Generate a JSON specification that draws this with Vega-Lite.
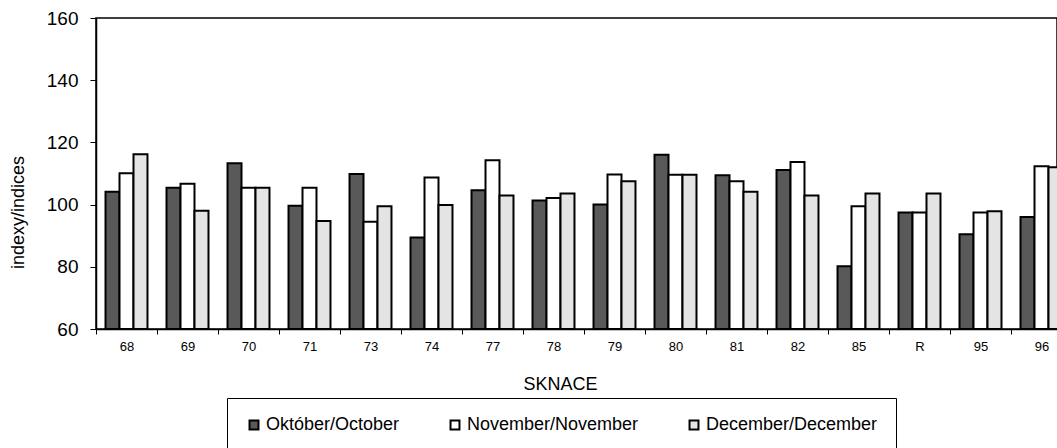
{
  "$schema": "https://vega.github.io/schema/vega-lite/v6.json",
  "autosize": "none",
  "padding": {"left": 96, "top": 18, "right": 0, "bottom": 119},
  "width": 961,
  "height": 311,
  "background": "white",
  "config": {
    "font": "Liberation Sans",
    "view": {"stroke": "black", "strokeWidth": 1.5}
  },
  "data": {
    "values": [
      {"sknace": "68", "month": "Október/October", "value": 104.1},
      {"sknace": "68", "month": "November/November", "value": 110.1},
      {"sknace": "68", "month": "December/December", "value": 116.2},
      {"sknace": "69", "month": "Október/October", "value": 105.4},
      {"sknace": "69", "month": "November/November", "value": 106.7},
      {"sknace": "69", "month": "December/December", "value": 98.0},
      {"sknace": "70", "month": "Október/October", "value": 113.3},
      {"sknace": "70", "month": "November/November", "value": 105.4},
      {"sknace": "70", "month": "December/December", "value": 105.4},
      {"sknace": "71", "month": "Október/October", "value": 99.6},
      {"sknace": "71", "month": "November/November", "value": 105.4},
      {"sknace": "71", "month": "December/December", "value": 94.7},
      {"sknace": "73", "month": "Október/October", "value": 109.8},
      {"sknace": "73", "month": "November/November", "value": 94.5},
      {"sknace": "73", "month": "December/December", "value": 99.5},
      {"sknace": "74", "month": "Október/October", "value": 89.4},
      {"sknace": "74", "month": "November/November", "value": 108.7},
      {"sknace": "74", "month": "December/December", "value": 99.9},
      {"sknace": "77", "month": "Október/October", "value": 104.6},
      {"sknace": "77", "month": "November/November", "value": 114.3},
      {"sknace": "77", "month": "December/December", "value": 102.9},
      {"sknace": "78", "month": "Október/October", "value": 101.3},
      {"sknace": "78", "month": "November/November", "value": 102.1},
      {"sknace": "78", "month": "December/December", "value": 103.6},
      {"sknace": "79", "month": "Október/October", "value": 100.0},
      {"sknace": "79", "month": "November/November", "value": 109.7},
      {"sknace": "79", "month": "December/December", "value": 107.5},
      {"sknace": "80", "month": "Október/October", "value": 116.0},
      {"sknace": "80", "month": "November/November", "value": 109.6},
      {"sknace": "80", "month": "December/December", "value": 109.6},
      {"sknace": "81", "month": "Október/October", "value": 109.4},
      {"sknace": "81", "month": "November/November", "value": 107.5},
      {"sknace": "81", "month": "December/December", "value": 104.1},
      {"sknace": "82", "month": "Október/October", "value": 111.1},
      {"sknace": "82", "month": "November/November", "value": 113.7},
      {"sknace": "82", "month": "December/December", "value": 102.9},
      {"sknace": "85", "month": "Október/October", "value": 80.2},
      {"sknace": "85", "month": "November/November", "value": 99.5},
      {"sknace": "85", "month": "December/December", "value": 103.6},
      {"sknace": "R", "month": "Október/October", "value": 97.5},
      {"sknace": "R", "month": "November/November", "value": 97.5},
      {"sknace": "R", "month": "December/December", "value": 103.6},
      {"sknace": "95", "month": "Október/October", "value": 90.5},
      {"sknace": "95", "month": "November/November", "value": 97.5},
      {"sknace": "95", "month": "December/December", "value": 97.9},
      {"sknace": "96", "month": "Október/October", "value": 96.0},
      {"sknace": "96", "month": "November/November", "value": 112.3},
      {"sknace": "96", "month": "December/December", "value": 112.0}
    ]
  },
  "mark": {"type": "bar", "stroke": "black", "strokeWidth": 2},
  "encoding": {
    "x": {
      "field": "sknace",
      "type": "nominal",
      "sort": null,
      "scale": {"range": [0, 976], "paddingInner": 0, "paddingOuter": 0},
      "axis": {
        "title": "SKNACE",
        "titleFontSize": 18,
        "titleFontWeight": "normal",
        "titleColor": "black",
        "titleX": 464,
        "titleY": 55,
        "titleBaseline": "middle",
        "titleAnchor": "middle",
        "labelAngle": 0,
        "labelFontSize": 13,
        "labelColor": "black",
        "labelPadding": 6,
        "tickBand": "extent",
        "tickSize": 5,
        "tickColor": "black",
        "domainColor": "black",
        "domainWidth": 1.5,
        "grid": false
      }
    },
    "xOffset": {
      "field": "month",
      "type": "nominal",
      "sort": ["Október/October", "November/November", "December/December"],
      "scale": {"paddingInner": 0, "paddingOuter": 0.68}
    },
    "y": {
      "field": "value",
      "type": "quantitative",
      "scale": {"domain": [60, 160], "nice": false, "zero": false},
      "axis": {
        "title": "indexy/indices",
        "titleFontSize": 18,
        "titleFontWeight": "normal",
        "titleColor": "black",
        "titleAngle": -90,
        "titleX": -78,
        "titleY": 194,
        "titleAlign": "center",
        "titleBaseline": "middle",
        "values": [60, 80, 100, 120, 140, 160],
        "labelFontSize": 19,
        "labelColor": "black",
        "labelPadding": 12,
        "tickSize": 6,
        "tickColor": "black",
        "domainColor": "black",
        "domainWidth": 1.5,
        "grid": false
      }
    },
    "y2": {"datum": 60},
    "fill": {
      "field": "month",
      "type": "nominal",
      "sort": ["Október/October", "November/November", "December/December"],
      "scale": {
        "domain": ["Október/October", "November/November", "December/December"],
        "range": ["#595959", "#ffffff", "#e4e4e4"]
      },
      "legend": {
        "title": null,
        "orient": "none",
        "legendX": 131,
        "legendY": 380,
        "direction": "horizontal",
        "strokeColor": "black",
        "padding": 18,
        "labelFontSize": 18,
        "labelColor": "black",
        "labelLimit": 0,
        "labelOffset": 3,
        "columnPadding": 46,
        "symbolType": "square",
        "symbolSize": 80,
        "symbolStrokeColor": "black",
        "symbolStrokeWidth": 2
      }
    }
  }
}
